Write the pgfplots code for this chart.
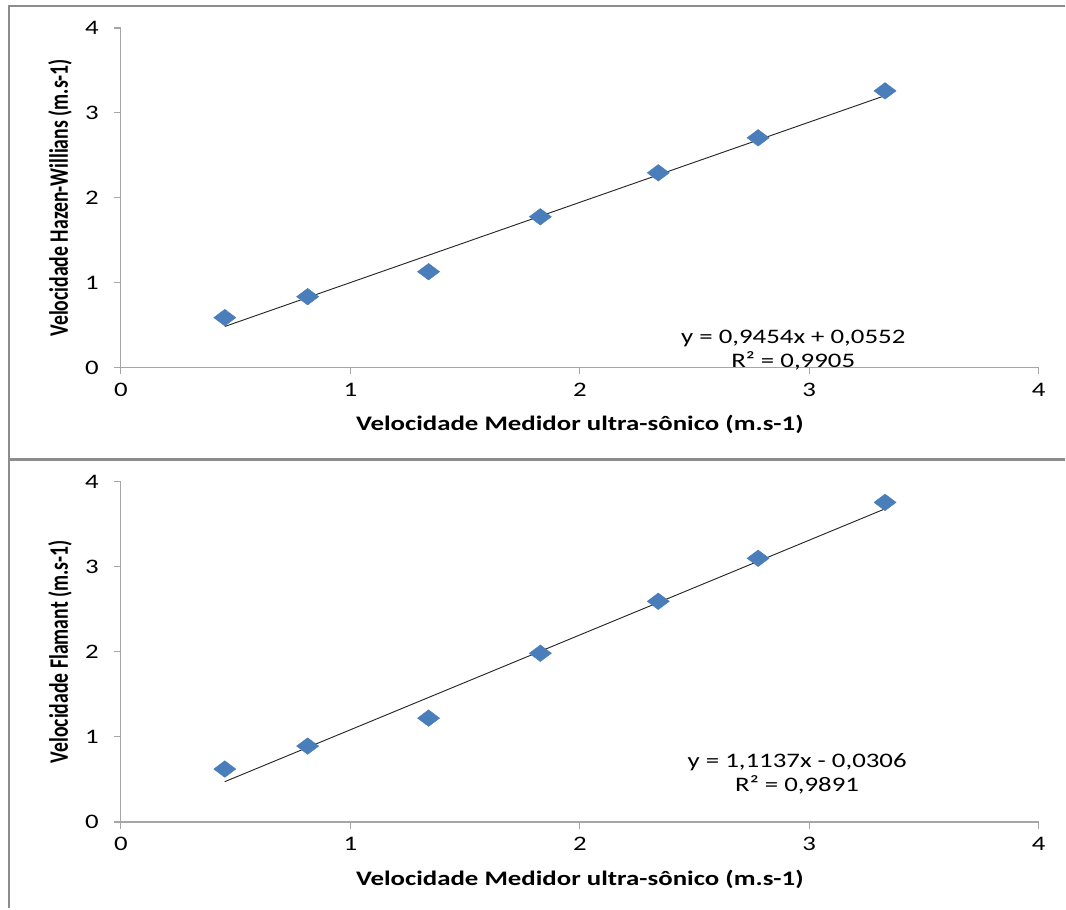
\documentclass[border=0pt]{standalone}
\usepackage{fontspec}
\setmainfont{Carlito}[FakeStretch=1.3]
\newfontfamily\ylfont{Carlito}
\usepackage{pgfplots}
\pgfplotsset{compat=1.18}

\definecolor{excelblue}{HTML}{4A7EBB}
\definecolor{framegray}{HTML}{8C8C8C}
\definecolor{axgray}{HTML}{A6A6A6}

\pgfplotsset{
  excelstyle/.style={
    scale only axis,
    width=689.25pt,
    xmin=0, xmax=4, ymin=0, ymax=4,
    xtick={0,1,2,3,4}, ytick={0,1,2,3,4},
    axis lines=left,
    axis line style={-, axgray, line width=0.9pt},
    tick style={axgray, line width=0.9pt},
    tick align=outside,
    major tick length=5pt,
    /pgf/number format/assume math mode=true,
    tick label style={font=\fontsize{15.5}{18}\selectfont},
    yticklabel style={xshift=-8pt},
    xticklabel style={yshift=-3pt},
    xlabel style={font=\fontsize{15.5}{18}\selectfont\bfseries,
      at={(axis description cs:0.5,-0.168)}, anchor=center},
    ylabel style={font=\ylfont\fontsize{14.8}{18}\selectfont\bfseries,
      at={(axis description cs:-0.0664,0.5)}, anchor=center},
    clip=false,
  },
  pts/.style={only marks, mark=diamond*, mark size=8.25pt, color=excelblue,
    mark options={rotate=90, draw=excelblue, fill=excelblue}},
  trend/.style={no marks, black!85, line width=0.7pt},
}

\begin{document}
\begin{tikzpicture}
\path (0pt,0pt) rectangle (799.5pt,681.75pt);

% upper panel
\begin{axis}[excelstyle, height=255pt, at={(90.75pt,405.75pt)}, anchor=origin,
  xlabel={Velocidade Medidor ultra-sônico (m.s-1)},
  ylabel={\scalebox{1}[1.35]{Velocidade Hazen-Willians (m.s-1)}}]
\addplot[pts] coordinates {
(0.453,0.588) (0.814,0.835) (1.341,1.129) (1.828,1.776)
(2.342,2.294) (2.777,2.706) (3.330,3.259)
};
\addplot[trend] coordinates {(0.453,0.484) (3.330,3.203)};
\node[align=center, font=\fontsize{15.5}{18}\selectfont] at (axis cs:2.93,0.21)
  {y = 0,9454x + 0,0552\\R² = 0,9905};
\end{axis}

% lower panel
\begin{axis}[excelstyle, height=255.75pt, at={(90.75pt,64.5pt)}, anchor=origin,
  xlabel={Velocidade Medidor ultra-sônico (m.s-1)},
  ylabel={\scalebox{1}[1.35]{Velocidade Flamant (m.s-1)}}]
\addplot[pts] coordinates {
(0.453,0.622) (0.814,0.892) (1.341,1.220) (1.828,1.982)
(2.342,2.592) (2.777,3.097) (3.330,3.754)
};
\addplot[trend] coordinates {(0.453,0.474) (3.330,3.678)};
\node[align=center, font=\fontsize{15.5}{18}\selectfont] at (axis cs:2.947,0.569)
  {y = 1,1137x - 0,0306\\R² = 0,9891};
\end{axis}

% frame
\draw[framegray, line width=1.9pt] (799.5pt,677.25pt) -- (6.75pt,677.25pt) -- (6.75pt,0pt);
\draw[framegray, line width=1.9pt] (6.75pt,336.75pt) -- (799.5pt,336.75pt);
\end{tikzpicture}
\end{document}
